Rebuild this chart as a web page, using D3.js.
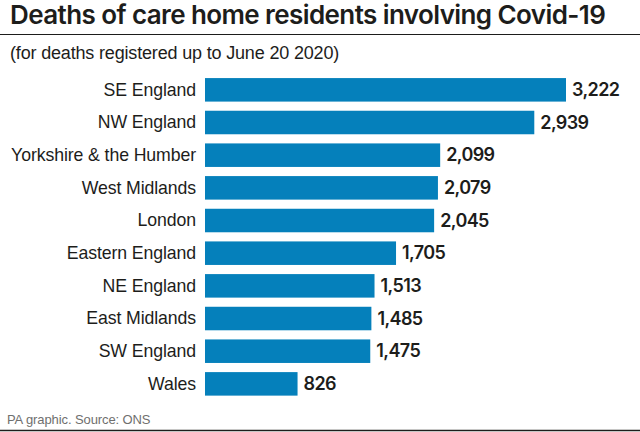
<!DOCTYPE html>
<html>
<head>
<meta charset="utf-8">
<script src="https://cdn.jsdelivr.net/npm/d3@7"></script>
<style>
  html, body { margin: 0; padding: 0; background: #fff; }
  svg { display: block; font-family: "Liberation Sans", sans-serif; }
</style>
</head>
<body>
<svg id="chart" width="640" height="432"></svg>
<script>
// Data
const regions = ["SE England", "NW England", "Yorkshire & the Humber", "West Midlands", "London",
  "Eastern England", "NE England", "East Midlands", "SW England", "Wales"];
const deaths = [3222, 2939, 2099, 2079, 2045, 1705, 1513, 1485, 1475, 826];

const svg = d3.select("#chart");
const ink = "#1d1d1b";
const heavy = "Inter, 'Liberation Sans', sans-serif";
const plain = "'Liberation Sans', sans-serif";

// Scales
const x = d3.scaleLinear().domain([0, 3222]).range([205, 566]);
const y = d3.scaleBand().domain(regions).range([73.5, 400.2]).paddingInner(0.28).paddingOuter(0.14);

// Title, subtitle, rules
svg.append("text").attr("x", 10).attr("y", 24).attr("fill", ink)
  .attr("font-family", heavy).attr("font-size", 26).attr("font-weight", 600).attr("letter-spacing", -0.59)
  .text("Deaths of care home residents involving Covid-19");
svg.append("line").attr("x1", 0).attr("x2", 640).attr("y1", 34.5).attr("y2", 34.5)
  .attr("stroke", ink).attr("stroke-width", 1);
svg.append("text").attr("x", 10).attr("y", 59).attr("fill", ink)
  .attr("font-family", plain).attr("font-size", 18).attr("letter-spacing", -0.17)
  .text("(for deaths registered up to June 20 2020)");

// Bars
svg.append("g").selectAll("rect").data(deaths).join("rect")
  .attr("x", x(0))
  .attr("y", (d, i) => y(regions[i]))
  .attr("width", d => x(d) - x(0))
  .attr("height", y.bandwidth())
  .attr("fill", "#0580bb");

// Region labels
const axis = svg.append("g").attr("transform", `translate(${x(0)},0)`)
  .call(d3.axisLeft(y).tickSize(0).tickPadding(9));
axis.select(".domain").remove();
axis.selectAll("text").attr("font-size", 17.7).attr("fill", ink)
  .attr("font-family", plain).attr("letter-spacing", -0.1);

// Value labels
svg.append("g").selectAll("text").data(deaths).join("text")
  .attr("x", d => x(d) + 6)
  .attr("y", (d, i) => y(regions[i]) + y.bandwidth() / 2)
  .attr("dy", "0.35em")
  .attr("font-family", heavy).attr("font-size", 18).attr("font-weight", 600)
  .attr("letter-spacing", -0.6).attr("fill", ink)
  .text(d => d3.format(",")(d));

// Footer
svg.append("text").attr("x", 7).attr("y", 423.5).attr("fill", "#6f6f6e")
  .attr("font-family", plain).attr("font-size", 13).attr("letter-spacing", -0.1)
  .text("PA graphic. Source: ONS");
svg.append("line").attr("x1", 0).attr("x2", 640).attr("y1", 430.5).attr("y2", 430.5)
  .attr("stroke", ink).attr("stroke-width", 1.5);
</script>
</body>
</html>
